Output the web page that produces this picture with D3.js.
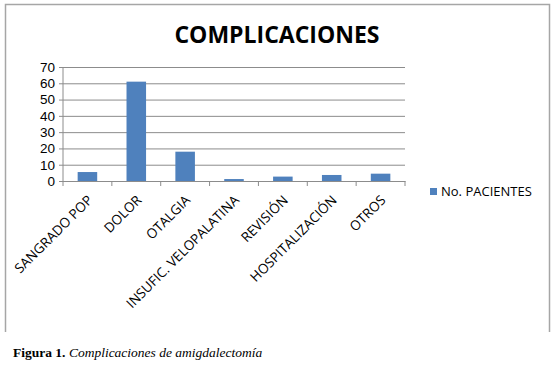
<!DOCTYPE html>
<html>
<head>
<meta charset="utf-8">
<script src="https://cdn.jsdelivr.net/npm/d3@7"></script>
<style>
  body { margin: 0; background: #fff; }
  svg text { fill: #000; }
</style>
</head>
<body>
<div id="chart"></div>
<script>
// chart data
const categories = ["SANGRADO POP", "DOLOR", "OTALGIA", "INSUFIC. VELOPALATINA", "REVISIÓN", "HOSPITALIZACIÓN", "OTROS"];
const pacientes = [5.5, 61, 18, 1.2, 2.7, 3.7, 4.5];
const yTicks = [0, 10, 20, 30, 40, 50, 60, 70];
const seriesName = "No. PACIENTES";
const title = "COMPLICACIONES";

const totalWidth = 557, totalHeight = 369;
const margin = { top: 67, left: 63, right: 152, bottom: 188 };
const width = totalWidth - margin.left - margin.right;
const height = totalHeight - margin.top - margin.bottom;

const svg = d3.select("#chart").append("svg")
    .attr("width", totalWidth)
    .attr("height", totalHeight);

// outer frame (left, top, right)
svg.append("path")
    .attr("d", "M5.5,332V4.5H549.5V332")
    .attr("fill", "none")
    .attr("stroke", "#a6a6a6")
    .attr("stroke-width", 1.5);

svg.append("text")
    .attr("x", 277)
    .attr("y", 43)
    .attr("text-anchor", "middle")
    .style("font-family", "'Open Sans', sans-serif")
    .style("font-weight", "bold")
    .style("font-size", "23px")
    .text(title);

const g = svg.append("g")
    .attr("transform", "translate(" + margin.left + "," + margin.top + ")");

const x = d3.scaleBand()
    .domain(categories)
    .range([0, width])
    .paddingInner(0.6)
    .paddingOuter(0.3);

const y = d3.scaleLinear()
    .domain([0, 70])
    .range([height, 0]);

// gridlines + y axis
const yAxis = g.append("g")
    .attr("class", "axis-y")
    .call(d3.axisLeft(y).tickValues(yTicks).tickSize(-width - 4).tickPadding(4).tickFormat(d3.format("d")))
    .attr("transform", "translate(-4,0)");
yAxis.select(".domain").remove();
yAxis.selectAll("line").attr("stroke", "#8c8c8c");
yAxis.selectAll("text")
    .style("font-family", "'Liberation Sans', sans-serif")
    .style("font-size", "13.5px")
    .attr("fill", "#000");

g.append("line")
    .attr("x1", 0).attr("x2", 0)
    .attr("y1", 0).attr("y2", height)
    .attr("stroke", "#8c8c8c");

// bars
g.selectAll(".bar")
    .data(pacientes)
    .enter().append("rect")
    .attr("class", "bar")
    .attr("x", (d, i) => x(categories[i]))
    .attr("width", x.bandwidth())
    .attr("y", d => y(d))
    .attr("height", d => height - y(d))
    .attr("fill", "#4f81bd");

// x axis
const xAxis = g.append("g")
    .attr("class", "axis-x")
    .attr("transform", "translate(0," + height + ")")
    .call(d3.axisBottom(x).tickSize(0).tickPadding(0));
xAxis.select(".domain").attr("stroke", "#8c8c8c");
xAxis.selectAll(".tick text").remove();

const step = x.step();
xAxis.selectAll(".sep")
    .data(d3.range(categories.length + 1))
    .enter().append("line")
    .attr("x1", i => i * step).attr("x2", i => i * step)
    .attr("y1", 0).attr("y2", 5)
    .attr("stroke", "#8c8c8c");

xAxis.selectAll(".lbl")
    .data(categories)
    .enter().append("text")
    .attr("class", "lbl")
    .attr("text-anchor", "end")
    .attr("transform", d => "translate(" + (x(d) + x.bandwidth() / 2 + 6) + ",20) rotate(-45)")
    .style("font-family", "'Open Sans', sans-serif")
    .style("font-size", "13.5px")
    .attr("fill", "#000")
    .text(d => d);

// legend
const legend = svg.append("g").attr("transform", "translate(430,188)");
legend.append("rect")
    .attr("width", 7).attr("height", 7)
    .attr("fill", "#4f81bd");
legend.append("text")
    .attr("x", 11).attr("y", 8)
    .style("font-family", "'Open Sans', sans-serif")
    .style("font-size", "13px")
    .text(seriesName);

// caption
const cap = svg.append("text")
    .attr("x", 13)
    .attr("y", 357)
    .style("font-family", "'Liberation Serif', serif")
    .style("font-size", "13.5px");
cap.append("tspan").style("font-weight", "bold").text("Figura 1. ");
cap.append("tspan").style("font-style", "italic").text("Complicaciones de amigdalectomía");
</script>
</body>
</html>
